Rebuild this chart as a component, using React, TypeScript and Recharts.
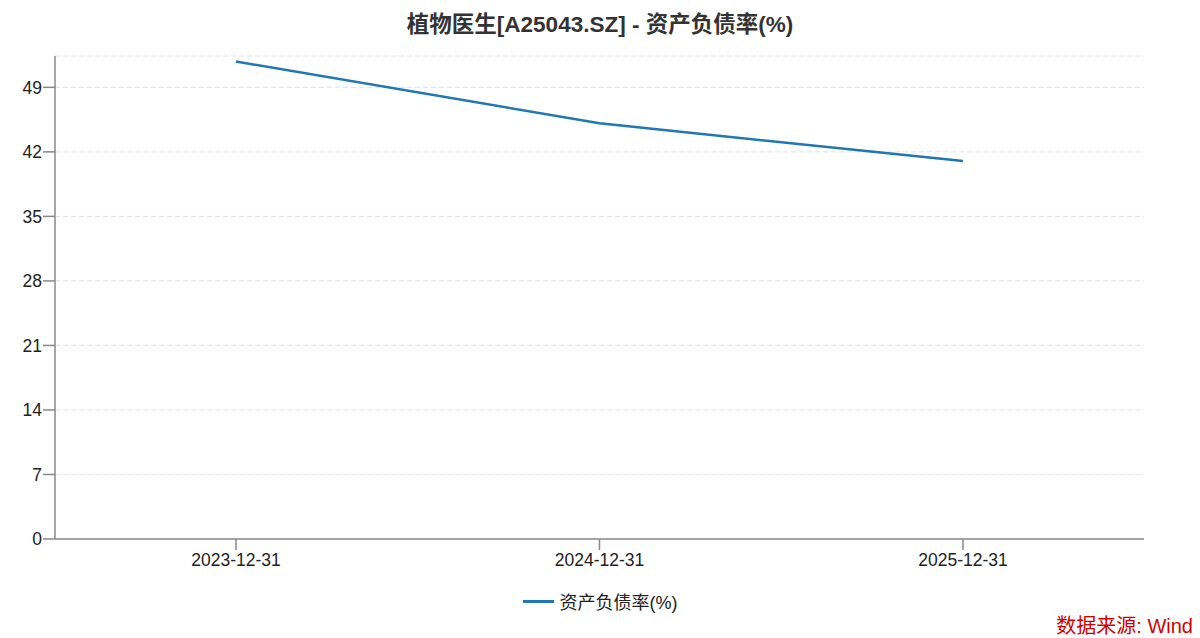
import { CartesianGrid, Legend, Line, LineChart, XAxis, YAxis } from "recharts";

const CATEGORIES = ["2023-12-31", "2024-12-31", "2025-12-31"];
const DEBT_RATIO = [51.8, 45.1, 41.0];
const Y_TICKS = [0, 7, 14, 21, 28, 35, 42, 49];
const SERIES_NAME = "资产负债率(%)";
const TITLE = "植物医生[A25043.SZ] - 资产负债率(%)";
const SOURCE = "数据来源: Wind";

const COLOR = "#1f77b4";
const FONT = '"Liberation Sans", "Noto Sans CJK SC", sans-serif';

const data = CATEGORIES.map((c, i) => ({ date: c, [SERIES_NAME]: DEBT_RATIO[i] }));

function LegendContent() {
  return (
    <div style={{ display: "flex", justifyContent: "center", alignItems: "center", height: 24, fontFamily: FONT }}>
      <span style={{ display: "inline-block", width: 31, height: 3, background: COLOR, marginRight: 6 }} />
      <span style={{ fontSize: 18, color: "#222" }}>{SERIES_NAME}</span>
    </div>
  );
}

export default function App() {
  return (
    <div style={{ position: "absolute", left: 0, top: 0, width: 1200, height: 638, background: "#fff", fontFamily: FONT }}>
      <div style={{ position: "absolute", top: 6, left: 0, width: 1200, textAlign: "center",
                    fontSize: 22.5, fontWeight: "bold", color: "#333" }}>
        {TITLE}
      </div>
      <LineChart width={1200} height={638} data={data} margin={{ top: 56, right: 56, bottom: 25, left: 0 }}>
        <CartesianGrid vertical={false} stroke="#e0e0e0" strokeDasharray="5 3" />
        <XAxis dataKey="date" padding={{ left: 181, right: 181 }} height={50}
               stroke="#888" strokeWidth={1.5} tickSize={11} tickMargin={4}
               tick={{ fill: "#222", fontSize: 17.5 }} />
        <YAxis domain={[0, 52.4]} ticks={Y_TICKS} width={55} interval={0}
               stroke="#888" strokeWidth={1.5} tickSize={12} tickMargin={1}
               tick={{ fill: "#222", fontSize: 17.5 }} />
        <Legend verticalAlign="bottom" content={<LegendContent />}
                wrapperStyle={{ left: 0, width: 1200 }} />
        <Line dataKey={SERIES_NAME} stroke={COLOR} strokeWidth={2.5} dot={false}
              activeDot={false} isAnimationActive={false} />
      </LineChart>
      <div style={{ position: "absolute", right: 7, top: 610, fontSize: 20, color: "#d00000" }}>
        {SOURCE}
      </div>
    </div>
  );
}
